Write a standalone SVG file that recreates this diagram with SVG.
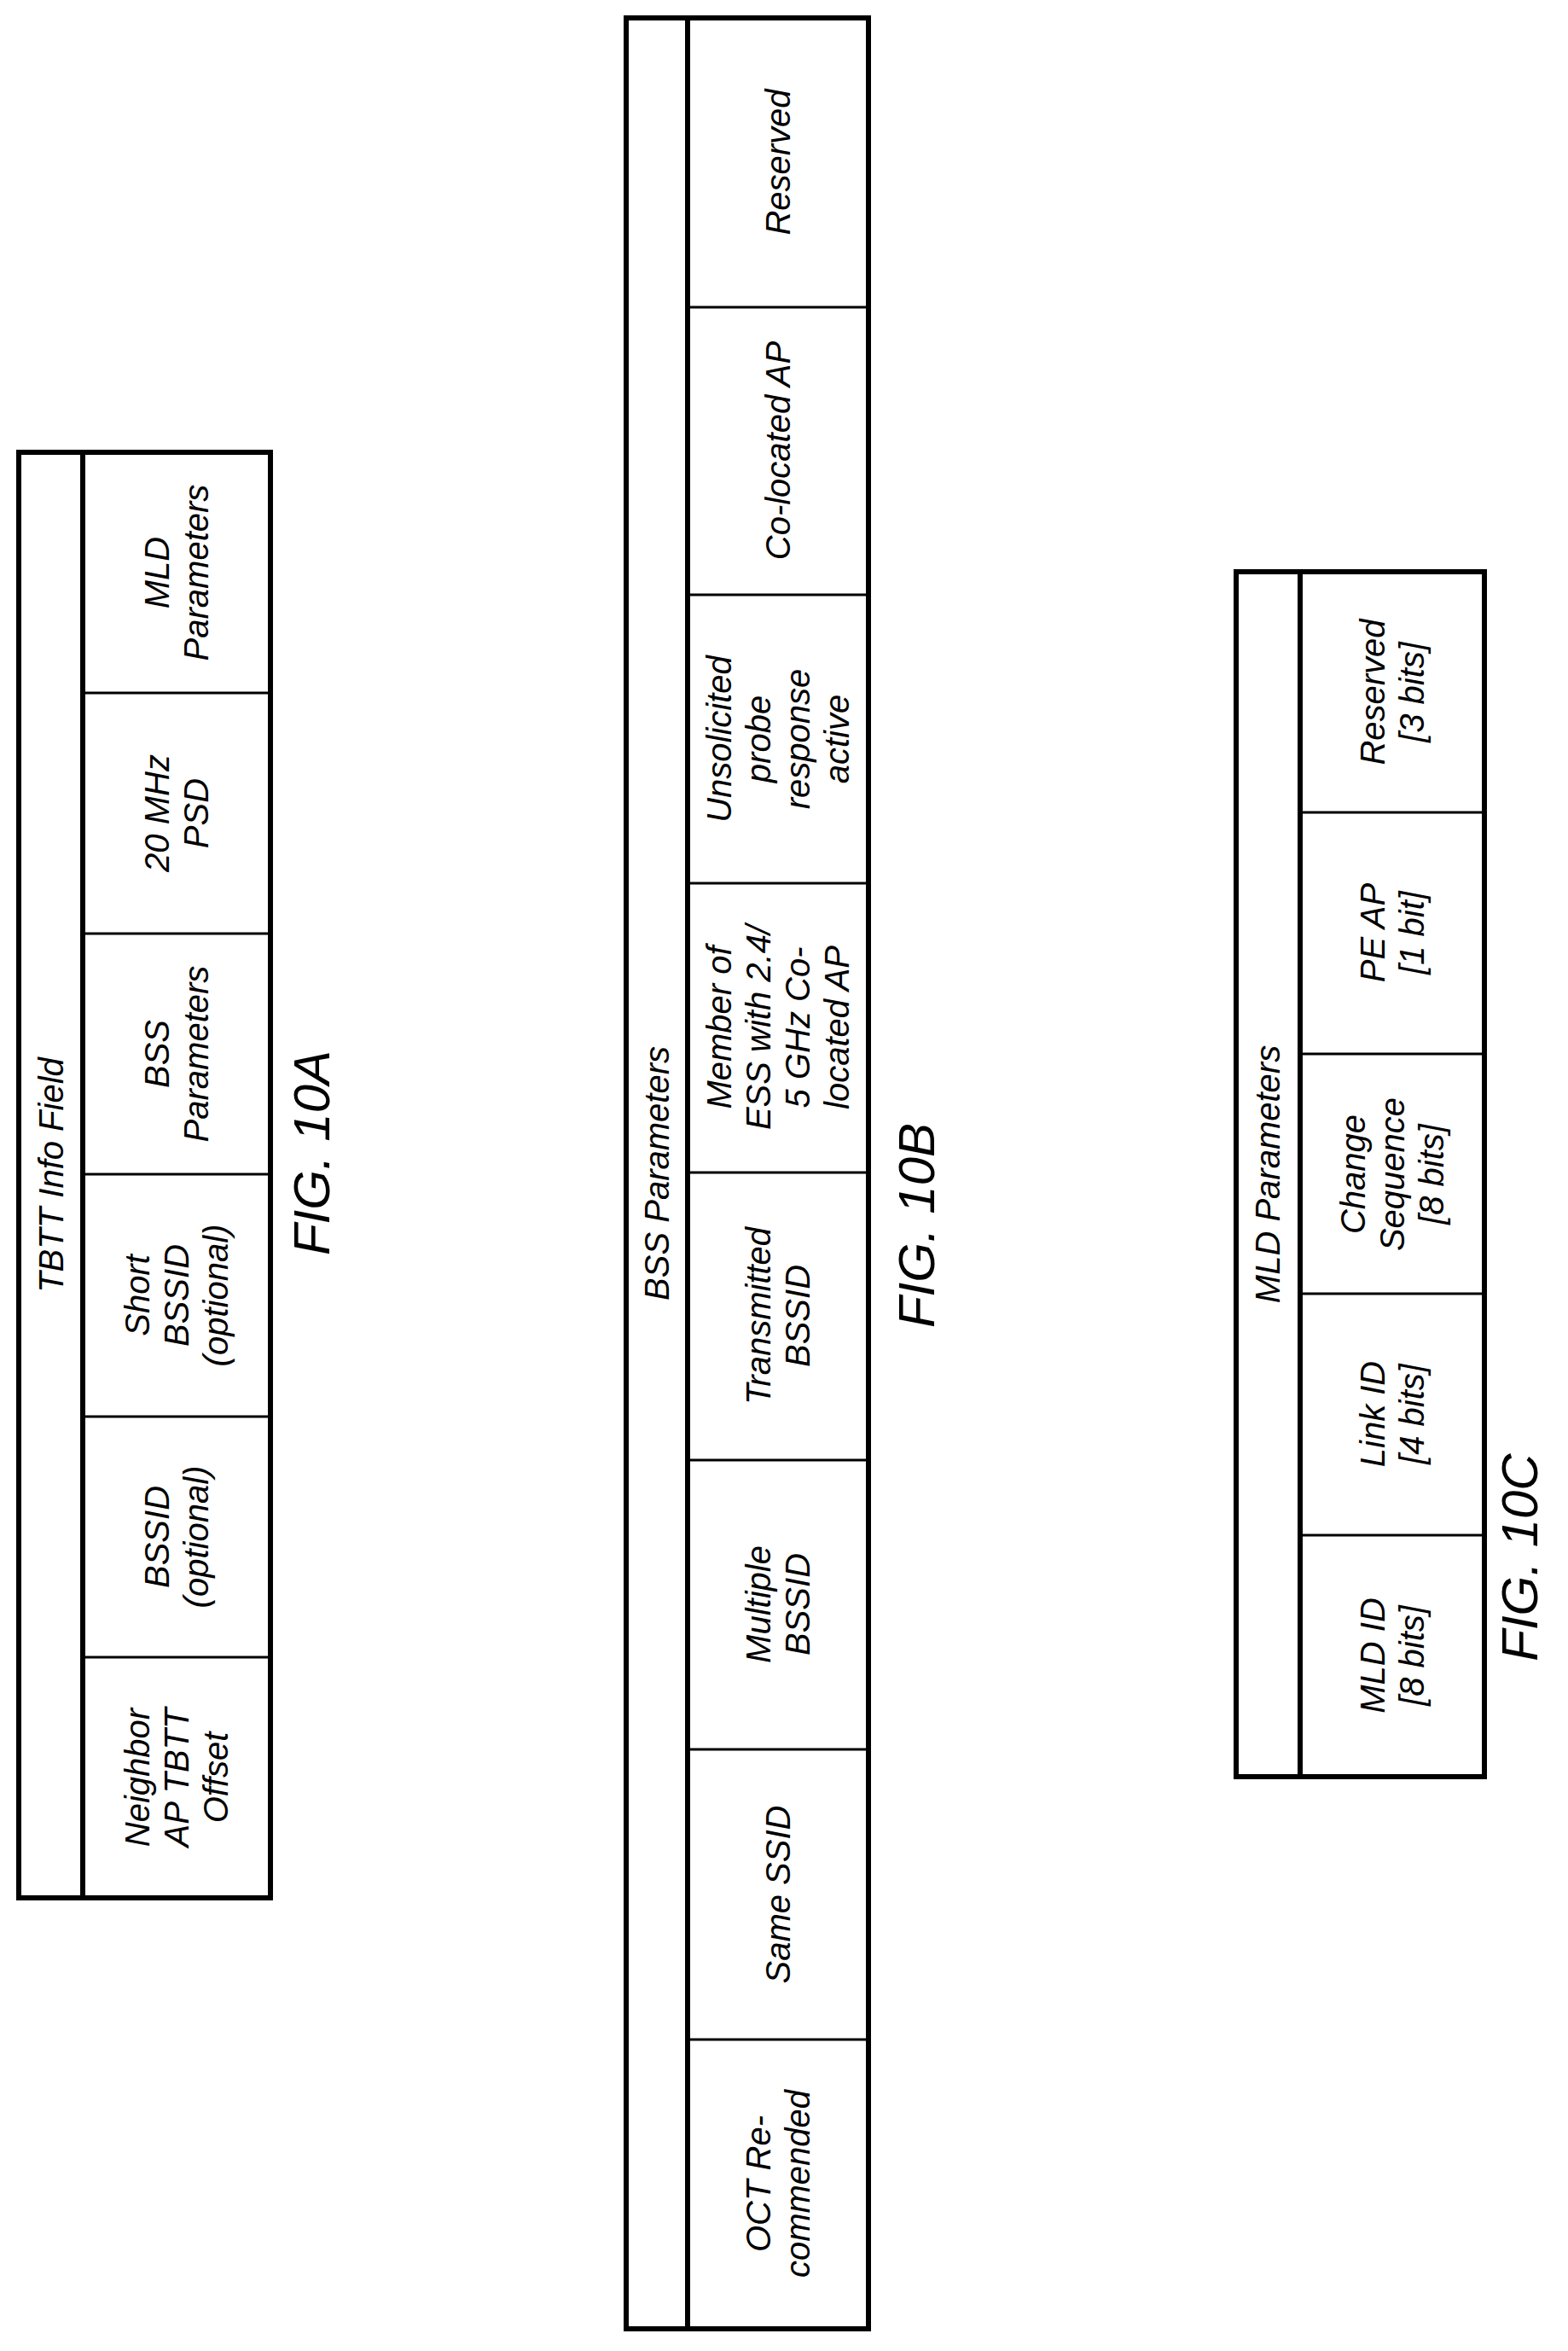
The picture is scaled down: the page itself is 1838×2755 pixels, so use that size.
<svg xmlns="http://www.w3.org/2000/svg" width="1838" height="2755" viewBox="0 0 1838 2755">
<style>
.o{fill:none;stroke:#000;stroke-width:6}
.l{stroke:#000;stroke-width:3}
text{font-family:"Liberation Sans",Arial,sans-serif;font-style:italic;font-size:40px;text-anchor:middle;fill:#000}
.fig{font-size:60px}
</style>
<rect width="1838" height="2755" fill="#fff"/>
<g id="fig10A">
<rect class="o" x="22" y="530" width="295" height="1694"/>
<line class="o" x1="97" y1="530" x2="97" y2="2224"/>
<line class="l" x1="97" y1="812" x2="317" y2="812"/>
<line class="l" x1="97" y1="1094" x2="317" y2="1094"/>
<line class="l" x1="97" y1="1376" x2="317" y2="1376"/>
<line class="l" x1="97" y1="1660" x2="317" y2="1660"/>
<line class="l" x1="97" y1="1942" x2="317" y2="1942"/>
<text transform="translate(60,1377) rotate(-90)" dy="14">TBTT Info Field</text>
<text transform="translate(207,671) rotate(-90)"><tspan x="0" dy="-9">MLD</tspan><tspan x="0" dy="46">Parameters</tspan></text>
<text transform="translate(207,953) rotate(-90)"><tspan x="0" dy="-9">20 MHz</tspan><tspan x="0" dy="46">PSD</tspan></text>
<text transform="translate(207,1235) rotate(-90)"><tspan x="0" dy="-9">BSS</tspan><tspan x="0" dy="46">Parameters</tspan></text>
<text transform="translate(207,1518) rotate(-90)"><tspan x="0" dy="-32">Short</tspan><tspan x="0" dy="46">BSSID</tspan><tspan x="0" dy="46">(optional)</tspan></text>
<text transform="translate(207,1801) rotate(-90)"><tspan x="0" dy="-9">BSSID</tspan><tspan x="0" dy="46">(optional)</tspan></text>
<text transform="translate(207,2083) rotate(-90)"><tspan x="0" dy="-32">Neighbor</tspan><tspan x="0" dy="46">AP TBTT</tspan><tspan x="0" dy="46">Offset</tspan></text>
<text class="fig" transform="translate(365,1351) rotate(-90)" dy="21">FIG. 10A</text>
</g>
<g id="fig10B">
<rect class="o" x="734" y="21" width="284" height="2708"/>
<line class="o" x1="806" y1="21" x2="806" y2="2729"/>
<line class="l" x1="806" y1="360" x2="1018" y2="360"/>
<line class="l" x1="806" y1="697" x2="1018" y2="697"/>
<line class="l" x1="806" y1="1035" x2="1018" y2="1035"/>
<line class="l" x1="806" y1="1374" x2="1018" y2="1374"/>
<line class="l" x1="806" y1="1711" x2="1018" y2="1711"/>
<line class="l" x1="806" y1="2050" x2="1018" y2="2050"/>
<line class="l" x1="806" y1="2390" x2="1018" y2="2390"/>
<text transform="translate(770,1375) rotate(-90)" dy="14">BSS Parameters</text>
<text transform="translate(912,190) rotate(-90)" dy="14">Reserved</text>
<text transform="translate(912,528) rotate(-90)" dy="14">Co-located AP</text>
<text transform="translate(912,866) rotate(-90)"><tspan x="0" dy="-55">Unsolicited</tspan><tspan x="0" dy="46">probe</tspan><tspan x="0" dy="46">response</tspan><tspan x="0" dy="46">active</tspan></text>
<text transform="translate(912,1204) rotate(-90)"><tspan x="0" dy="-55">Member of</tspan><tspan x="0" dy="46">ESS with 2.4/</tspan><tspan x="0" dy="46">5 GHz Co-</tspan><tspan x="0" dy="46">located AP</tspan></text>
<text transform="translate(912,1542) rotate(-90)"><tspan x="0" dy="-9">Transmitted</tspan><tspan x="0" dy="46">BSSID</tspan></text>
<text transform="translate(912,1880) rotate(-90)"><tspan x="0" dy="-9">Multiple</tspan><tspan x="0" dy="46">BSSID</tspan></text>
<text transform="translate(912,2220) rotate(-90)" dy="14">Same SSID</text>
<text transform="translate(912,2559) rotate(-90)"><tspan x="0" dy="-9">OCT Re-</tspan><tspan x="0" dy="46">commended</tspan></text>
<text class="fig" transform="translate(1074,1436) rotate(-90)" dy="21">FIG. 10B</text>
</g>
<g id="fig10C">
<rect class="o" x="1449" y="670" width="291" height="1412"/>
<line class="o" x1="1524" y1="670" x2="1524" y2="2082"/>
<line class="l" x1="1524" y1="952" x2="1740" y2="952"/>
<line class="l" x1="1524" y1="1235" x2="1740" y2="1235"/>
<line class="l" x1="1524" y1="1516" x2="1740" y2="1516"/>
<line class="l" x1="1524" y1="1799" x2="1740" y2="1799"/>
<text transform="translate(1486,1376) rotate(-90)" dy="14">MLD Parameters</text>
<text transform="translate(1632,811) rotate(-90)"><tspan x="0" dy="-9">Reserved</tspan><tspan x="0" dy="46">[3 bits]</tspan></text>
<text transform="translate(1632,1093) rotate(-90)"><tspan x="0" dy="-9">PE AP</tspan><tspan x="0" dy="46">[1 bit]</tspan></text>
<text transform="translate(1632,1376) rotate(-90)"><tspan x="0" dy="-32">Change</tspan><tspan x="0" dy="46">Sequence</tspan><tspan x="0" dy="46">[8 bits]</tspan></text>
<text transform="translate(1632,1657) rotate(-90)"><tspan x="0" dy="-9">Link ID</tspan><tspan x="0" dy="46">[4 bits]</tspan></text>
<text transform="translate(1632,1940) rotate(-90)"><tspan x="0" dy="-9">MLD ID</tspan><tspan x="0" dy="46">[8 bits]</tspan></text>
<text class="fig" transform="translate(1781,1825) rotate(-90)" dy="21">FIG. 10C</text>
</g>
<g id="connectors"/>
</svg>
